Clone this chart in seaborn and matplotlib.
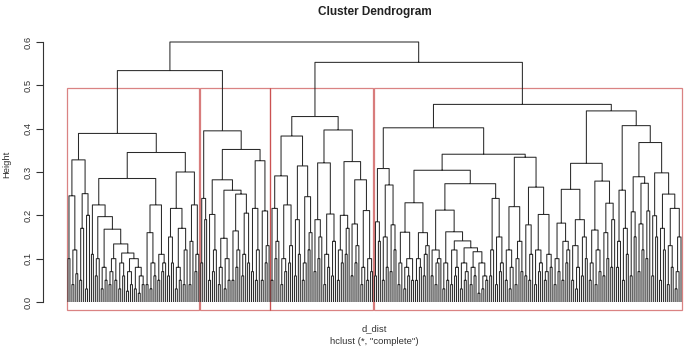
import re

import numpy as np
import matplotlib
matplotlib.use("Agg")
import matplotlib.pyplot as plt
from matplotlib.patches import Rectangle
import seaborn as sns


# =========================
# TREE DATA (heights in hundredths)
#   "."         one leaf
#   "[a b c]"   ladder: two leaves join at a, the next leaf joins at b, ...
#   "(L R)h"    two subtrees joined at height h
# =========================

# cluster 1
c1_a = "(([10] ([4] [6.5])12)24.5 ([5 17] ([3] .)20)25)32.8"
c1_ladder = "(([3] [6])9 (([2.5] [4])7 ([3] ([2] [4])6)8)10)11.3"
c1_b1a = f"([11] ([6 10] (([3] [5])8 (([4 7] [5])10 {c1_ladder})13.4)16.8)19.7)22.4"
c1_b1b = "(([4] ([3] [6])9)16 ([5] [7 9])11)22.4"
c1_b2 = "((([6] [9])15 (([3] [5])8 [4 12])17)21.6 ([4 14] [7 11])22.4)30"
cluster_1 = f"({c1_a} (({c1_b1a} {c1_b1b})28.5 {c1_b2})34.5)38.9"

# cluster 2
c2_left = "([9] [19])23.9"
c2_ra = "(([5] [7 12])20.2 (([4 8] ([3] [5])10)14.7 (([5] [8 12])16.4 ([6 11] [9])20.5)24.9)25.8)28.2"
c2_rb = "(([7] [5 12])21.6 ([5] [9 13])21)32.6"
cluster_2 = f"({c2_left} ({c2_ra} {c2_rb})35.2)39.5"

# cluster 3
c3_la = "(([5] [10 14])21.6 (([4] [7])10 [9 13])22.4)29.1"
c3_lb = "(([6] [11])19 ([5 9] [12 16])24.3)31.4"
c3_ra = "(([7] [10 15])19 (([4] [8])11 [6 14])20.3)32.1"
c3_rb = "((([5] [9])12 [11 17])20 (([6] [9 13])18 ([4 8] ([5] [7])10)21.1)28.2)32.4"
cluster_3 = f"(({c3_la} {c3_lb})38.3 ({c3_ra} {c3_rb})39.7)42.8"

# cluster 4
c4_la = "(([6] [14])18.5 (([5] [8])15 ([7] [12])17.8)27)30.8"
c4_p = "(([4 9] (([3] [6])8 [5])10)16.1 (([5] [8])10 [6 11 13])16)22.9"
c4_ladder = "(([3] [5])9 (([4] [6 8])12 (([3] [5 7])9 (([4] [6])8 ([2] ([3] [5])6)9)11.6)12.5)14.1)16.2"
c4_q = f"((([6] [4 9 10])12 {c4_ladder})21.2 ([6 12] ([4] [7 9])15)23.9)27.3"
c4_lb2 = "((([5] [3 8])12 ([4 10] [7])14)22 (([6] [5 11])17.8 (([4] [7 9])12 ([5 7] [8])11)20.2)26.5)33.4"
c4_ra = ("(((([4] [7])10 ([5] [9 12])14)18.2 (([5] [3 8])13 ([6] [10])15)19)26 "
         "(([5 9] ([4] [7])12)16.6 (([6] [10])16 [8 19])22.8)27.9)32")
c4_s1 = "(([6] [15])20.8 (([7] [12])18 [10 21])27.4)28.9"
c4_s2 = "(([6] [15])19.9 (([5] [12])17 (([4] [8])13 ([3 7] .)15)21.6)24.9)29.8"
c4_rb = f"(([8 14] ([5] [11])17)25.8 ({c4_s1} {c4_s2})36.8)40.7"
cluster_4 = f"(({c4_la} (({c4_p} {c4_q})30.4 {c4_lb2})34.1)40.2 ({c4_ra} {c4_rb})44.1)45.6"

clusters = [cluster_1, cluster_2, cluster_3, cluster_4]
top_heights = [53.4, 55.3, 60.0]

full_tree = (f"(({cluster_1} {cluster_2}){top_heights[0]} "
             f"({cluster_3} {cluster_4}){top_heights[1]}){top_heights[2]}")

y_ticks = [0.0, 0.1, 0.2, 0.3, 0.4, 0.5, 0.6]
y_tick_labels = ["0.0", "0.1", "0.2", "0.3", "0.4", "0.5", "0.6"]

TOKEN = re.compile(r"\d+(?:\.\d+)?|[()\[\].]")


def parse_tree(text):
    """Turns the tree text into dendrogram line coordinates (leaves at 1..N)."""
    tokens = TOKEN.findall(text)
    xs, ys, heights = [], [], []
    leaf = [0]

    def new_leaf():
        leaf[0] += 1
        return leaf[0]

    def link(x1, h1, x2, h2, h):
        xs.extend([x1, x1, x2, x2, np.nan])
        ys.extend([h1, h, h, h2, np.nan])
        heights.append(h)
        return (x1 + x2) / 2

    def node(i):
        t = tokens[i]
        if t == ".":
            return new_leaf(), 0.0, i + 1
        if t == "[":
            x, h = new_leaf(), 0.0
            i += 1
            while tokens[i] != "]":
                hh = float(tokens[i]) / 100
                x = link(x, h, new_leaf(), 0.0, hh)
                h = hh
                i += 1
            return x, h, i + 1
        x1, h1, i = node(i + 1)
        x2, h2, i = node(i)
        h = float(tokens[i + 1]) / 100
        return link(x1, h1, x2, h2, h), h, i + 2

    node(0)
    return np.array(xs), np.array(ys), leaf[0], sorted(heights, reverse=True)


# =========================
# PLOT
# =========================

sns.set_theme(style="white")
plt.rcParams["font.family"] = ["Liberation Sans", "DejaVu Sans"]

xs, ys, n_leaves, heights = parse_tree(full_tree)
sizes = [parse_tree(c)[2] for c in clusters]

W, H = 685, 349
leaf_first_px, leaf_last_px = 68, 681
px_per_leaf = (leaf_last_px - leaf_first_px) / (n_leaves - 1)
pad = 0.04 * (n_leaves - 1)
ax_left_px = leaf_first_px - pad * px_per_leaf
ax_width_px = (n_leaves - 1 + 2 * pad) * px_per_leaf
ax_top_px, ax_bottom_px = 31.6, 312.4

fig = plt.figure(figsize=(W / 100, H / 100), dpi=100)
ax = fig.add_axes([ax_left_px / W, 1 - ax_bottom_px / H,
                   ax_width_px / W, (ax_bottom_px - ax_top_px) / H])

ax.plot(xs, ys, color="#2a2a2a", lw=0.75, solid_capstyle="butt")

# rect.hclust style boxes for k = 4
rect_top = (heights[2] + heights[3]) / 2
edges = np.concatenate([[0], np.cumsum(sizes)])
for k in range(len(sizes)):
    x0, x1 = edges[k] + 0.66, edges[k + 1] + 0.33
    ax.add_patch(Rectangle((x0, -0.018), x1 - x0, rect_top + 0.018, fill=False,
                           edgecolor="#c23030", alpha=0.6, lw=0.9, clip_on=False))

ax.set_xlim(1 - pad, n_leaves + pad)
ax.set_ylim(-0.024, 0.624)
ax.set_xticks([])
ax.set_yticks(y_ticks)
ax.set_yticklabels(y_tick_labels, rotation=90, va="center")
ax.tick_params(axis="y", direction="out", length=5, width=0.8, pad=3,
               labelsize=6.8, colors="#333333", left=True)
for side in ["top", "right", "bottom"]:
    ax.spines[side].set_visible(False)
ax.spines["left"].set_bounds(0, 0.6)
ax.spines["left"].set_color("#333333")
ax.spines["left"].set_linewidth(0.8)
ax.patch.set_alpha(0)

cx = (ax_left_px + ax_width_px / 2) / W
fig.text(cx, 1 - 15 / H, "Cluster Dendrogram", ha="center", va="baseline",
         fontsize=8.5, fontweight="bold", color="#222222")
fig.text(cx, 1 - 331 / H, "d_dist", ha="center", va="baseline",
         fontsize=6.8, color="#333333")
fig.text(cx, 1 - 344 / H, 'hclust (*, "complete")', ha="center", va="baseline",
         fontsize=6.8, color="#333333")
fig.text(7 / W, 1 - 164 / H, "Height", rotation=90, ha="center", va="center",
         fontsize=6.8, color="#333333")

fig.savefig("out.png", dpi=100)
